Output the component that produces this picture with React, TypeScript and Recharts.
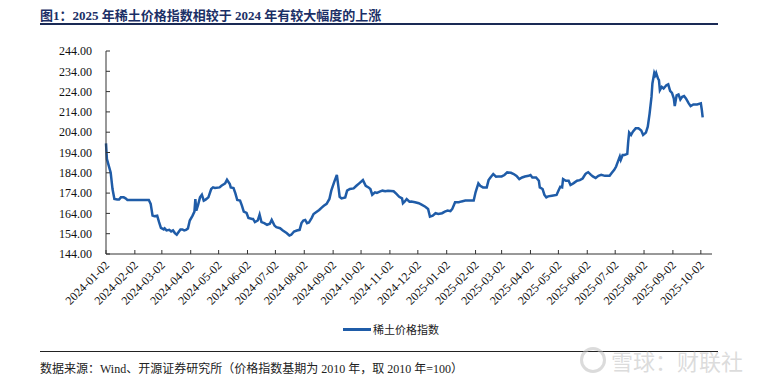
import React from 'react';
import { LineChart, Line, XAxis, YAxis } from 'recharts';

// 稀土价格指数
const dates = [
  '2024-01-02', '2024-01-03', '2024-01-05', '2024-01-07', '2024-01-09', '2024-01-11', '2024-01-14', '2024-01-16',
  '2024-01-18', '2024-01-21', '2024-01-23', '2024-01-25', '2024-02-17', '2024-02-19', '2024-02-21', '2024-02-23',
  '2024-02-26', '2024-02-28', '2024-03-01', '2024-03-04', '2024-03-05', '2024-03-07', '2024-03-10', '2024-03-12',
  '2024-03-14', '2024-03-16', '2024-03-18', '2024-03-20', '2024-03-22', '2024-03-24', '2024-03-26', '2024-03-28',
  '2024-03-30', '2024-04-01', '2024-04-04', '2024-04-06', '2024-04-07', '2024-04-08', '2024-04-10', '2024-04-12',
  '2024-04-14', '2024-04-16', '2024-04-18', '2024-04-21', '2024-04-24', '2024-04-26', '2024-04-28', '2024-05-03',
  '2024-05-05', '2024-05-08', '2024-05-09', '2024-05-11', '2024-05-14', '2024-05-15', '2024-05-18', '2024-05-20',
  '2024-05-22', '2024-05-25', '2024-05-27', '2024-05-29', '2024-06-01', '2024-06-03', '2024-06-07', '2024-06-08',
  '2024-06-10', '2024-06-13', '2024-06-15', '2024-06-17', '2024-06-20', '2024-06-23', '2024-06-26', '2024-06-28',
  '2024-07-01', '2024-07-03', '2024-07-07', '2024-07-10', '2024-07-14', '2024-07-17', '2024-07-19', '2024-07-22',
  '2024-07-25', '2024-07-28', '2024-07-30', '2024-08-01', '2024-08-03', '2024-08-05', '2024-08-07', '2024-08-10',
  '2024-08-12', '2024-08-15', '2024-08-18', '2024-08-21', '2024-08-23', '2024-08-26', '2024-08-29', '2024-08-31',
  '2024-09-03', '2024-09-06', '2024-09-08', '2024-09-09', '2024-09-11', '2024-09-15', '2024-09-17', '2024-09-20',
  '2024-09-24', '2024-09-27', '2024-09-30', '2024-10-04', '2024-10-07', '2024-10-10', '2024-10-12', '2024-10-14',
  '2024-10-17', '2024-10-19', '2024-10-22', '2024-10-25', '2024-10-28', '2024-10-31', '2024-11-06', '2024-11-09',
  '2024-11-12', '2024-11-15', '2024-11-16', '2024-11-18', '2024-11-20', '2024-11-23', '2024-11-25', '2024-11-29',
  '2024-12-03', '2024-12-06', '2024-12-10', '2024-12-13', '2024-12-15', '2024-12-18', '2024-12-21', '2024-12-24',
  '2024-12-28', '2024-12-31', '2025-01-03', '2025-01-06', '2025-01-08', '2025-01-11', '2025-01-15', '2025-01-18',
  '2025-01-22', '2025-01-31', '2025-02-02', '2025-02-05', '2025-02-07', '2025-02-10', '2025-02-14', '2025-02-16',
  '2025-02-18', '2025-02-21', '2025-02-24', '2025-02-26', '2025-03-02', '2025-03-05', '2025-03-08', '2025-03-12',
  '2025-03-15', '2025-03-18', '2025-03-21', '2025-03-24', '2025-03-27', '2025-03-31', '2025-04-02', '2025-04-04',
  '2025-04-08', '2025-04-11', '2025-04-12', '2025-04-15', '2025-04-17', '2025-04-19', '2025-04-21', '2025-04-25',
  '2025-04-30', '2025-05-02', '2025-05-04', '2025-05-06', '2025-05-07', '2025-05-10', '2025-05-13', '2025-05-15',
  '2025-05-18', '2025-05-22', '2025-05-25', '2025-05-28', '2025-05-31', '2025-06-01', '2025-06-03', '2025-06-06',
  '2025-06-08', '2025-06-11', '2025-06-14', '2025-06-17', '2025-06-21', '2025-06-26', '2025-06-28', '2025-07-01',
  '2025-07-03', '2025-07-05', '2025-07-07', '2025-07-08', '2025-07-10', '2025-07-12', '2025-07-15', '2025-07-16',
  '2025-07-17', '2025-07-19', '2025-07-21', '2025-07-24', '2025-07-27', '2025-07-30', '2025-08-01', '2025-08-04',
  '2025-08-06', '2025-08-08', '2025-08-10', '2025-08-11', '2025-08-13', '2025-08-14', '2025-08-15', '2025-08-17',
  '2025-08-18', '2025-08-19', '2025-08-21', '2025-08-23', '2025-08-26', '2025-08-28', '2025-08-30', '2025-09-01',
  '2025-09-03', '2025-09-04', '2025-09-06', '2025-09-08', '2025-09-10', '2025-09-12', '2025-09-14', '2025-09-16',
  '2025-09-19', '2025-09-21', '2025-09-24', '2025-09-28', '2025-10-02', '2025-10-03', '2025-10-04',
];

const values = [
  198.5, 190.7, 187.4, 184.2, 176.0, 171.1, 170.8, 170.8,
  171.9, 171.9, 171.4, 170.6, 170.6, 168.7, 162.9, 162.6,
  162.9, 159.7, 156.9, 156.1, 156.6, 155.6, 155.9, 155.1,
  155.6, 154.3, 153.5, 154.8, 156.1, 156.1, 155.6, 155.9,
  156.6, 160.5, 162.9, 164.9, 171.1, 165.4, 168.3, 171.9,
  173.2, 170.3, 170.8, 171.9, 176.0, 176.8, 176.5, 176.8,
  177.6, 178.5, 178.8, 180.6, 178.5, 176.8, 176.5, 173.9,
  170.6, 170.3, 167.8, 164.9, 164.2, 161.8, 161.3, 161.3,
  159.7, 160.5, 163.4, 159.7, 159.2, 158.4, 158.9, 160.8,
  158.0, 157.2, 156.7, 155.6, 154.3, 153.1, 153.5, 155.1,
  155.6, 155.9, 159.2, 160.5, 160.8, 159.2, 159.5, 161.8,
  163.7, 164.7, 165.7, 167.0, 167.8, 168.7, 171.1, 175.2,
  179.3, 182.9, 176.0, 172.2, 171.4, 171.9, 175.2, 176.0,
  176.3, 177.6, 178.8, 180.4, 177.6, 176.8, 176.0, 173.2,
  174.4, 174.1, 174.7, 175.2, 174.9, 175.2, 174.9, 173.6,
  172.2, 171.4, 169.0, 169.9, 171.1, 169.8, 169.9, 169.5,
  169.0, 168.3, 167.3, 166.2, 162.4, 162.9, 164.1, 163.7,
  164.1, 164.9, 165.4, 165.1, 166.2, 169.5, 169.5, 169.9,
  170.3, 170.3, 174.4, 178.8, 177.6, 176.8, 176.8, 180.4,
  181.7, 183.4, 182.1, 182.2, 182.2, 182.9, 184.2, 184.0,
  183.4, 182.5, 180.9, 181.7, 182.2, 182.5, 182.9, 181.7,
  181.7, 180.1, 176.8, 176.0, 173.1, 171.9, 172.4, 172.7,
  173.1, 175.2, 177.1, 176.8, 180.9, 180.1, 180.1, 178.0,
  178.8, 180.1, 180.4, 181.2, 183.4, 183.8, 184.3, 183.0,
  182.2, 181.4, 182.5, 183.0, 182.5, 182.5, 183.8, 185.5,
  187.1, 189.6, 192.0, 190.4, 192.8, 192.8, 193.3, 199.4,
  203.8, 202.6, 204.3, 205.9, 205.9, 204.8, 202.6, 203.8,
  206.7, 213.3, 221.4, 228.0, 233.2, 232.1, 233.2, 230.4,
  229.6, 224.7, 226.3, 225.5, 227.1, 227.6, 224.4, 223.4,
  220.6, 216.9, 222.2, 222.6, 220.1, 221.4, 221.8, 220.6,
  218.2, 216.9, 217.7, 217.7, 218.2, 215.2, 211.3,
];

const tickLabels = [
  '2024-01-02', '2024-02-02', '2024-03-02', '2024-04-02', '2024-05-02', '2024-06-02',
  '2024-07-02', '2024-08-02', '2024-09-02', '2024-10-02', '2024-11-02', '2024-12-02',
  '2025-01-02', '2025-02-02', '2025-03-02', '2025-04-02', '2025-05-02', '2025-06-02',
  '2025-07-02', '2025-08-02', '2025-09-02', '2025-10-02',
];

const yTicks = [144, 154, 164, 174, 184, 194, 204, 214, 224, 234, 244];

const BASE = Date.UTC(2024, 0, 2);
const toDay = (s: string) => {
  const [y, m, d] = s.split('-').map(Number);
  return Math.round((Date.UTC(y, m - 1, d) - BASE) / 86400000);
};

const data = dates.map((d, i) => ({ t: toDay(d), v: values[i] }));
const xTicks = tickLabels.map(toDay);
const labelOf = (t: number) => tickLabels[xTicks.indexOf(t)] ?? '';

const LINE_COLOR = '#1F5CA8';
const AXIS_COLOR = '#333333';
const SERIF = '"Liberation Serif", "Times New Roman", serif';
const CJK = '"Liberation Serif", "Noto Sans CJK SC", serif';

const XTick = (props: any) => {
  const { x, y, payload } = props;
  const tx = x + 1;
  const ty = y + 5;
  return (
    <text
      x={tx}
      y={ty}
      transform={`rotate(-45, ${tx}, ${ty})`}
      textAnchor="end"
      dy="0.35em"
      fontSize={12}
      fontFamily={SERIF}
      fill="#111"
    >
      {labelOf(payload.value)}
    </text>
  );
};

export default function App() {
  return (
    <div
      style={{
        position: 'absolute',
        left: 0,
        top: 0,
        width: 757,
        height: 388,
        background: '#fff',
        overflow: 'hidden',
      }}
    >
      <div
        style={{
          position: 'absolute',
          left: 40,
          top: 5,
          fontFamily: '"Liberation Serif", "Noto Sans CJK SC", serif',
          fontWeight: 700,
          fontSize: 13,
          color: '#1B2F66',
          whiteSpace: 'nowrap',
        }}
      >
        图1：2025 年稀土价格指数相较于 2024 年有较大幅度的上涨
      </div>
      <div style={{ position: 'absolute', left: 40, top: 23, width: 678, height: 1.5, background: '#1a2a55' }} />

      <div style={{ position: 'absolute', left: 0, top: 0 }}>
        <LineChart width={757} height={320} data={data} margin={{ top: 51, right: 45, left: 0, bottom: 0 }}>
          <XAxis
            type="number"
            dataKey="t"
            domain={[0, 651]}
            ticks={xTicks}
            interval={0}
            height={66}
            tickSize={-4}
            tickMargin={8}
            tick={<XTick />}
            stroke={AXIS_COLOR}
            tickLine={{ stroke: AXIS_COLOR }}
            axisLine={{ stroke: AXIS_COLOR }}
          />
          <YAxis
            type="number"
            domain={[144, 244]}
            ticks={yTicks}
            interval={0}
            width={106}
            tickSize={-4}
            tickMargin={18}
            tickFormatter={(v: number) => v.toFixed(2)}
            tick={{ fontSize: 12, fontFamily: SERIF, fill: '#111' }}
            stroke={AXIS_COLOR}
            tickLine={{ stroke: AXIS_COLOR }}
            axisLine={{ stroke: AXIS_COLOR }}
          />
          <Line
            type="linear"
            dataKey="v"
            name="稀土价格指数"
            stroke={LINE_COLOR}
            strokeWidth={2.5}
            dot={false}
            isAnimationActive={false}
          />
        </LineChart>
      </div>

      {/* legend */}
      <div
        style={{
          position: 'absolute',
          left: 343,
          top: 321,
          display: 'flex',
          alignItems: 'center',
          fontFamily: CJK,
          fontSize: 11,
          color: '#222',
        }}
      >
        <span style={{ display: 'inline-block', width: 28, height: 3, background: LINE_COLOR, marginRight: 2 }} />
        <span>稀土价格指数</span>
      </div>

      <div style={{ position: 'absolute', left: 40, top: 351, width: 678, height: 1, background: '#222' }} />
      <div
        style={{
          position: 'absolute',
          left: 40,
          top: 359,
          fontFamily: CJK,
          fontSize: 12,
          color: '#222',
          whiteSpace: 'nowrap',
        }}
      >
        数据来源：Wind、开源证券研究所（价格指数基期为 2010 年，取 2010 年=100）
      </div>

      {/* watermark */}
      <div
        style={{
          position: 'absolute',
          left: 580,
          top: 344,
          display: 'flex',
          alignItems: 'center',
          fontFamily: '"Noto Sans CJK SC", sans-serif',
          fontSize: 22,
          color: 'rgba(190,190,190,0.55)',
          whiteSpace: 'nowrap',
        }}
      >
        <span
          style={{
            display: 'inline-block',
            width: 20,
            height: 20,
            borderRadius: '50%',
            border: '3px solid rgba(190,190,190,0.55)',
            marginRight: 5,
          }}
        />
        雪球：财联社
      </div>
    </div>
  );
}
